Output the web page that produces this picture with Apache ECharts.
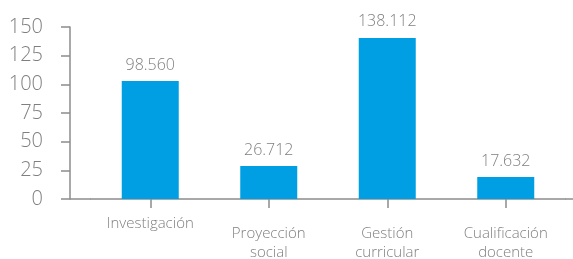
<!DOCTYPE html>
<html>
<head>
<meta charset="utf-8">
<script src="https://cdn.jsdelivr.net/npm/echarts@6/dist/echarts.min.js"></script>
<style>
html,body{margin:0;padding:0;background:#fff;}
#c{width:573px;height:259px;}
</style>
</head>
<body>
<div id="c"></div>
<script>
var categories = ['Investigación', 'Proyección\nsocial', 'Gestión\ncurricular', 'Cualificación\ndocente'];
var barValues = [102.8, 28.7, 140.5, 19.2];
var valueLabels = ['98.560', '26.712', '138.112', '17.632'];
var yTicks = [0, 25, 50, 75, 100, 125, 150];

var FONT = '"Open Sans", Lato, sans-serif';
var GRAY = '#7f7f7f';
var AXIS = '#8c8c8c';

var chart = echarts.init(document.getElementById('c'));
chart.setOption({
  animation: false,
  grid: {left: 91, right: 8, top: 27, bottom: 60, containLabel: false, outerBoundsMode: 'none'},
  xAxis: {
    type: 'category',
    data: categories.map(function (c, i) {
      return i === 0 ? {value: c, textStyle: {verticalAlign: 'middle', padding: [8, 0, 0, 0]}} : c;
    }),
    axisLine: {show: true, lineStyle: {color: AXIS, width: 1.5}},
    axisTick: {show: true, alignWithLabel: true, length: 9, lineStyle: {color: AXIS, width: 1.5}},
    axisLabel: {
      interval: 0, color: GRAY, fontFamily: FONT, fontSize: 15, fontWeight: 300,
      lineHeight: 19, margin: 25
    }
  },
  yAxis: {
    type: 'value',
    min: yTicks[0], max: yTicks[yTicks.length - 1], interval: 25,
    offset: 21,
    axisLine: {show: true, lineStyle: {color: AXIS, width: 1.5}},
    axisTick: {show: true, length: 9, lineStyle: {color: AXIS, width: 1.5}},
    splitLine: {show: false},
    axisLabel: {color: GRAY, fontFamily: FONT, fontSize: 20, fontWeight: 300, margin: 27}
  },
  graphic: [
    {type: 'line', shape: {x1: 70, y1: 199, x2: 91, y2: 199}, style: {stroke: AXIS, lineWidth: 1.5}},
    {type: 'line', shape: {x1: 565, y1: 199, x2: 573, y2: 199}, style: {stroke: AXIS, lineWidth: 1.5}}
  ],
  series: [{
    type: 'bar',
    data: barValues,
    barWidth: 57,
    itemStyle: {color: '#009FE3'},
    label: {
      show: true, position: 'top', distance: 8,
      color: GRAY, fontFamily: FONT, fontSize: 16, fontWeight: 300,
      formatter: function (p) { return valueLabels[p.dataIndex]; }
    }
  }]
});
</script>
</body>
</html>
